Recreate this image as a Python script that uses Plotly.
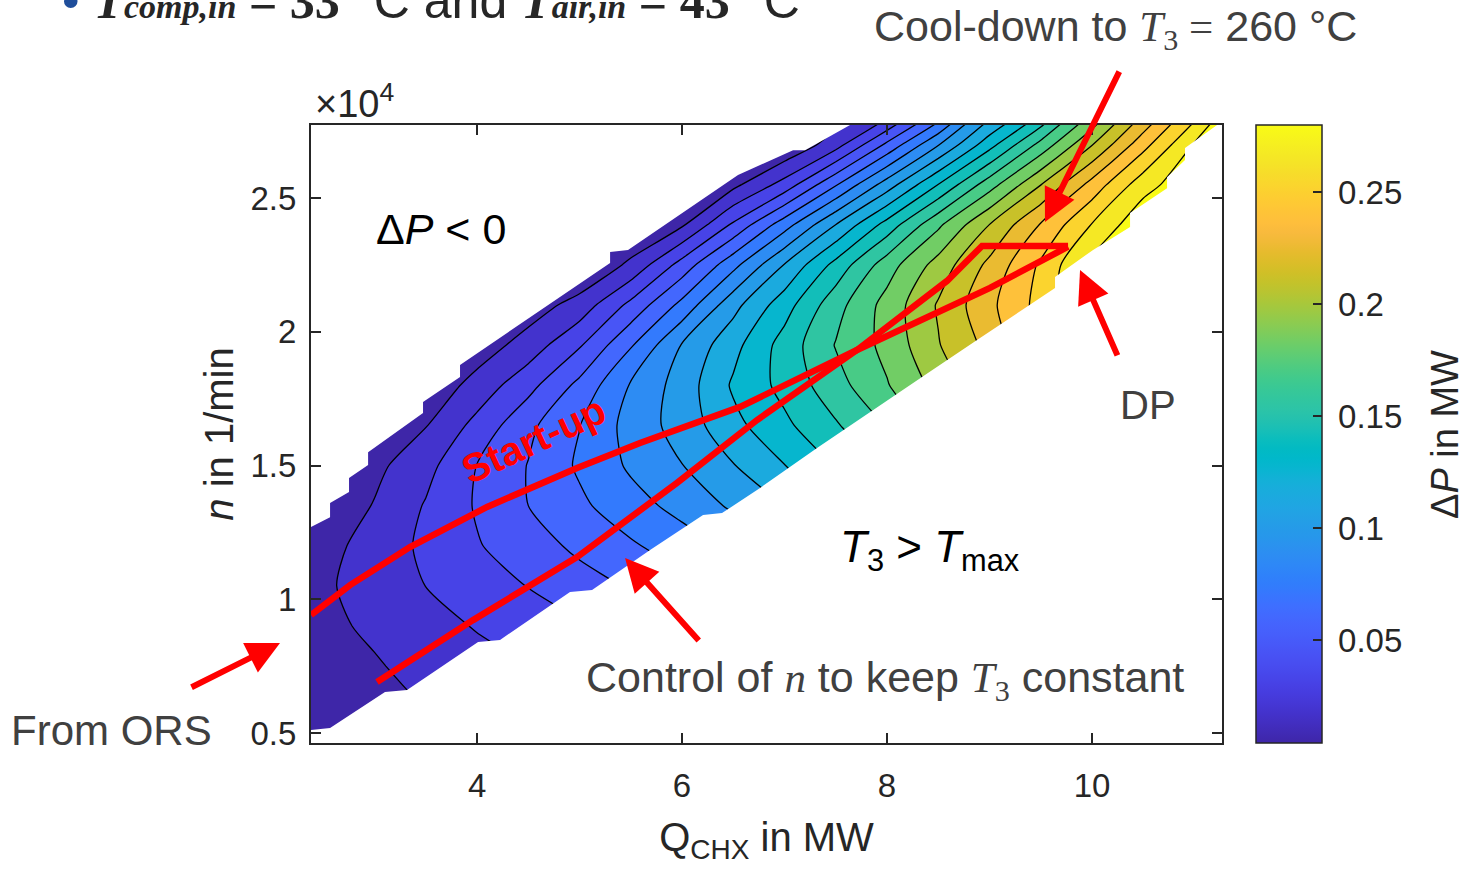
import plotly.graph_objects as go

SANS = "Liberation Sans, Arial, Helvetica, sans-serif"
SERIF = "Liberation Serif, Times New Roman, serif"
INK = "#262626"
NOTE = "#404040"
RED = "#ff0000"

# ---------------------------------------------------------------- data ---
# Heat duty of the compressor heat exchanger, MW
q_grid = [2.0, 2.5, 3.0, 3.5, 4.0, 4.5, 5.0, 5.5, 6.0, 6.5,
          7.0, 7.5, 8.0, 8.5, 9.0, 9.5, 10.0, 10.5, 11.0, 11.5]
# Shaft speed, 10^4 1/min
n_grid = [0.30, 0.45, 0.60, 0.75, 0.90, 1.05, 1.20, 1.35, 1.50,
          1.65, 1.80, 1.95, 2.10, 2.25, 2.40, 2.55, 2.70, 2.85]

# Net power gain dP in MW, one row per shaft speed (rows follow n_grid)
dp_mw = [
    [0.0, 0.0, 0.0, 0.0052, 0.0091, 0.0128, 0.0143, 0.0156, 0.0195, 0.0262, 0.0392, 0.0468, 0.0624, 0.0689, 0.0912, 0.1302, 0.1846, 0.2082, 0.2275, 0.2472],
    [0.0013, 0.0026, 0.0039, 0.0091, 0.0129, 0.0169, 0.0195, 0.0208, 0.0262, 0.0351, 0.0481, 0.0572, 0.0728, 0.0806, 0.1027, 0.1432, 0.1924, 0.2145, 0.2342, 0.2535],
    [0.0026, 0.0052, 0.0078, 0.0134, 0.0174, 0.0211, 0.0251, 0.0262, 0.0338, 0.0442, 0.0572, 0.0676, 0.0832, 0.0923, 0.1144, 0.1562, 0.2002, 0.2212, 0.2405, 0.2602],
    [0.0039, 0.0072, 0.0117, 0.0176, 0.0220, 0.0259, 0.0312, 0.0325, 0.0416, 0.0533, 0.0663, 0.0782, 0.0936, 0.1042, 0.1261, 0.1692, 0.2082, 0.2275, 0.2472, 0.2639],
    [0.0046, 0.0098, 0.0155, 0.0217, 0.0268, 0.0326, 0.0374, 0.0429, 0.0507, 0.0624, 0.0754, 0.0884, 0.1042, 0.1157, 0.1378, 0.1807, 0.2158, 0.2342, 0.2535, 0.2678],
    [0.0039, 0.0107, 0.0195, 0.0261, 0.0324, 0.0394, 0.0464, 0.0533, 0.0607, 0.0715, 0.0845, 0.0988, 0.1144, 0.1274, 0.1495, 0.1911, 0.2236, 0.2405, 0.2602, 0.2717],
    [0.0026, 0.0094, 0.0172, 0.0290, 0.0381, 0.0458, 0.0551, 0.0632, 0.0720, 0.0809, 0.0941, 0.1092, 0.1248, 0.1391, 0.1612, 0.2015, 0.2314, 0.2472, 0.2639, 0.2743],
    [0.0, 0.0026, 0.0138, 0.0270, 0.0403, 0.0520, 0.0624, 0.0731, 0.0822, 0.0932, 0.1045, 0.1196, 0.1352, 0.1508, 0.1729, 0.2119, 0.2392, 0.2535, 0.2678, 0.2756],
    [0.0, 0.0, 0.0096, 0.0218, 0.0393, 0.0525, 0.0670, 0.0800, 0.0907, 0.1034, 0.1167, 0.1309, 0.1456, 0.1625, 0.1846, 0.2212, 0.2472, 0.2602, 0.2717, 0.2769],
    [0.0, 0.0, 0.0023, 0.0124, 0.0300, 0.0490, 0.0647, 0.0829, 0.0965, 0.1132, 0.1273, 0.1416, 0.1569, 0.1756, 0.1952, 0.2275, 0.2535, 0.2639, 0.2743, 0.2782],
    [0.0, 0.0, 0.0, 0.0029, 0.0179, 0.0346, 0.0555, 0.0792, 0.0967, 0.1188, 0.1340, 0.1511, 0.1681, 0.1863, 0.2054, 0.2342, 0.2587, 0.2678, 0.2756, 0.2795],
    [0.0, 0.0, 0.0, 0.0, 0.0057, 0.0186, 0.0376, 0.0637, 0.0919, 0.1128, 0.1353, 0.1567, 0.1728, 0.1942, 0.2119, 0.2379, 0.2626, 0.2704, 0.2769, 0.2795],
    [0.0, 0.0, 0.0, 0.0, 0.0, 0.0060, 0.0181, 0.0425, 0.0688, 0.0997, 0.1244, 0.1511, 0.1738, 0.1963, 0.2179, 0.2386, 0.2652, 0.2730, 0.2769, 0.2795],
    [0.0, 0.0, 0.0, 0.0, 0.0, 0.0, 0.0, 0.0157, 0.0442, 0.0740, 0.1047, 0.1343, 0.1629, 0.1872, 0.2113, 0.2361, 0.2639, 0.2730, 0.2769, 0.2795],
    [0.0, 0.0, 0.0, 0.0, 0.0, 0.0, 0.0, 0.0, 0.0112, 0.0412, 0.0723, 0.1042, 0.1351, 0.1665, 0.1952, 0.2220, 0.2477, 0.2704, 0.2756, 0.2795],
    [0.0, 0.0, 0.0, 0.0, 0.0, 0.0, 0.0, 0.0, 0.0, 0.0095, 0.0311, 0.0638, 0.0974, 0.1303, 0.1634, 0.1947, 0.2258, 0.2547, 0.2704, 0.2795],
    [0.0, 0.0, 0.0, 0.0, 0.0, 0.0, 0.0, 0.0, 0.0, 0.0, 0.0, 0.0204, 0.0546, 0.0901, 0.1249, 0.1602, 0.1944, 0.2292, 0.2613, 0.2795],
    [0.0, 0.0, 0.0, 0.0, 0.0, 0.0, 0.0, 0.0, 0.0, 0.0, 0.0, 0.0, 0.0104, 0.0455, 0.0912, 0.1209, 0.1625, 0.2015, 0.2366, 0.2730],
]

# contour levels of dP (MW) and colour-bar range
dp_level_start = 0.013
dp_level_end = 0.26
dp_level_step = 0.013
cbar_range = [0.004, 0.28]
cbar_ticks = [0.05, 0.10, 0.15, 0.20, 0.25]
cbar_ticklabels = ["0.05", "0.1", "0.15", "0.2", "0.25"]

x_range = [2.38, 11.268]
y_range = [0.4626, 2.773]
x_ticks = [4, 6, 8, 10]
y_ticks = [0.5, 1.0, 1.5, 2.0, 2.5]
y_ticklabels = ["0.5", "1", "1.5", "2", "2.5"]

# limits of the feasible map: dP = 0 (upper side) and T3 = Tmax (lower side)
upper_edge_q = [2.380, 2.566, 2.566, 2.751, 2.751, 2.937, 2.937, 3.102, 3.473, 3.473,
                3.834, 3.834, 5.298, 5.298, 5.473, 6.546, 7.083, 7.200, 7.639]
upper_edge_n = [1.270, 1.307, 1.360, 1.401, 1.453, 1.502, 1.550, 1.595, 1.696, 1.737,
                1.831, 1.876, 2.257, 2.298, 2.306, 2.586, 2.679, 2.679, 2.773]
lower_edge_q = [2.380, 2.566, 3.102, 3.317, 4.010, 4.224, 4.907, 5.122, 5.688, 6.205,
                6.390, 6.761, 7.317, 7.834, 8.341, 8.878, 9.639, 9.639, 10.010, 10.371,
                10.371, 10.732, 10.732, 10.907, 10.907, 11.220]
lower_edge_n = [0.511, 0.519, 0.653, 0.661, 0.840, 0.848, 1.027, 1.035, 1.184, 1.315,
                1.322, 1.416, 1.565, 1.700, 1.831, 1.969, 2.164, 2.205, 2.306, 2.392,
                2.444, 2.537, 2.578, 2.642, 2.687, 2.773]

# operating paths
startup_q = [2.380, 2.761, 3.346, 4.098, 4.976, 5.590, 6.566, 7.707, 9.005, 9.766]
startup_n = [0.941, 1.053, 1.195, 1.345, 1.491, 1.584, 1.719, 1.932, 2.164, 2.318]
control_q = [3.024, 3.961, 4.976, 5.951, 6.732, 7.707, 8.585, 8.927, 9.766]
control_n = [0.691, 0.922, 1.158, 1.435, 1.670, 1.932, 2.190, 2.321, 2.321]

# MATLAB parula colour map
PARULA = [
    [0.2422, 0.1504, 0.6603], [0.2504, 0.1650, 0.7076], [0.2578, 0.1818, 0.7511], [0.2647, 0.1978, 0.7952],
    [0.2706, 0.2147, 0.8364], [0.2751, 0.2342, 0.8710], [0.2783, 0.2559, 0.8991], [0.2803, 0.2782, 0.9221],
    [0.2813, 0.3006, 0.9414], [0.2810, 0.3228, 0.9579], [0.2795, 0.3447, 0.9717], [0.2760, 0.3667, 0.9829],
    [0.2699, 0.3892, 0.9906], [0.2602, 0.4123, 0.9952], [0.2440, 0.4358, 0.9988], [0.2206, 0.4603, 0.9973],
    [0.1963, 0.4847, 0.9892], [0.1834, 0.5074, 0.9798], [0.1786, 0.5289, 0.9682], [0.1764, 0.5499, 0.9520],
    [0.1687, 0.5703, 0.9359], [0.1540, 0.5902, 0.9218], [0.1460, 0.6091, 0.9079], [0.1380, 0.6276, 0.8973],
    [0.1248, 0.6459, 0.8883], [0.1113, 0.6635, 0.8763], [0.0952, 0.6798, 0.8598], [0.0689, 0.6948, 0.8394],
    [0.0297, 0.7082, 0.8163], [0.0036, 0.7203, 0.7917], [0.0067, 0.7312, 0.7660], [0.0433, 0.7411, 0.7394],
    [0.0964, 0.7500, 0.7120], [0.1408, 0.7584, 0.6842], [0.1717, 0.7670, 0.6554], [0.1938, 0.7758, 0.6251],
    [0.2161, 0.7843, 0.5923], [0.2470, 0.7918, 0.5567], [0.2906, 0.7973, 0.5188], [0.3406, 0.8008, 0.4789],
    [0.3909, 0.8029, 0.4354], [0.4456, 0.8024, 0.3909], [0.5044, 0.7993, 0.3480], [0.5616, 0.7942, 0.3045],
    [0.6174, 0.7876, 0.2612], [0.6720, 0.7793, 0.2227], [0.7242, 0.7698, 0.1910], [0.7738, 0.7598, 0.1646],
    [0.8203, 0.7498, 0.1535], [0.8634, 0.7406, 0.1596], [0.9035, 0.7330, 0.1774], [0.9393, 0.7288, 0.2100],
    [0.9728, 0.7298, 0.2394], [0.9956, 0.7434, 0.2371], [0.9970, 0.7659, 0.2199], [0.9952, 0.7893, 0.2028],
    [0.9892, 0.8136, 0.1885], [0.9786, 0.8386, 0.1766], [0.9676, 0.8639, 0.1643], [0.9610, 0.8890, 0.1537],
    [0.9597, 0.9135, 0.1423], [0.9628, 0.9373, 0.1265], [0.9691, 0.9606, 0.1064], [0.9769, 0.9839, 0.0805],
]
parula_scale = [
    [i / (len(PARULA) - 1), "rgb(%d,%d,%d)" % tuple(round(255 * c) for c in rgb)]
    for i, rgb in enumerate(PARULA)
]

# ---------------------------------------------------------------- figure --
fig = go.Figure()

fig.add_trace(go.Contour(
    x=q_grid, y=n_grid, z=dp_mw,
    autocontour=False,
    contours=dict(start=dp_level_start, end=dp_level_end, size=dp_level_step,
                  coloring="fill", showlines=True),
    line=dict(color="black", width=1.3, smoothing=0.7),
    colorscale=parula_scale, showscale=False, hoverinfo="skip",
))

# blank out the infeasible regions on both sides of the map
pad = 0.6
upper_mask_q = upper_edge_q + [upper_edge_q[-1], x_range[0] - pad, x_range[0] - pad]
upper_mask_n = upper_edge_n + [y_range[1] + pad, y_range[1] + pad, upper_edge_n[0]]
lower_mask_q = lower_edge_q + [lower_edge_q[-1], x_range[1] + pad, x_range[1] + pad,
                               x_range[0] - pad, x_range[0] - pad]
lower_mask_n = lower_edge_n + [y_range[1] + pad, y_range[1] + pad, y_range[0] - pad,
                               y_range[0] - pad, lower_edge_n[0]]
for mq, mn in ((upper_mask_q, upper_mask_n), (lower_mask_q, lower_mask_n)):
    fig.add_trace(go.Scatter(x=mq, y=mn, mode="lines", fill="toself",
                             fillcolor="white", line=dict(width=0, color="white"),
                             hoverinfo="skip", showlegend=False))

# start-up path and speed-controlled path
for pq, pn in ((startup_q, startup_n), (control_q, control_n)):
    fig.add_trace(go.Scatter(x=pq, y=pn, mode="lines",
                             line=dict(color=RED, width=6.5),
                             hoverinfo="skip", showlegend=False))

# continuous colour bar for dP (title is placed as a rotated note below)
fig.add_trace(go.Scatter(
    x=[q_grid[0]], y=[n_grid[0]], mode="markers",
    marker=dict(size=1, color=[cbar_range[0]], colorscale=parula_scale,
                cmin=cbar_range[0], cmax=cbar_range[1], showscale=True,
                colorbar=dict(
                    x=1.0373, xanchor="left", xpad=0, y=0.5, yanchor="middle", ypad=0,
                    len=1.0, lenmode="fraction", thickness=66, thicknessmode="pixels",
                    outlinewidth=1.5, outlinecolor=INK,
                    tickmode="array", tickvals=cbar_ticks,
                    ticktext=["\u2005" + t for t in cbar_ticklabels],
                    ticks="inside", ticklen=9, tickwidth=1.5, tickcolor=INK,
                    tickfont=dict(family=SANS, size=33, color=INK),
                )),
    hoverinfo="skip", showlegend=False,
))

axis_common = dict(
    showline=True, linewidth=2, linecolor=INK, mirror="ticks",
    ticks="inside", ticklen=10, tickwidth=1.5, tickcolor=INK,
    showgrid=False, zeroline=False,
    tickfont=dict(family=SANS, size=33, color=INK),
)
fig.update_xaxes(range=x_range, tickmode="array", tickvals=x_ticks,
                 ticklabelstandoff=12,
                 title=dict(text="Q<sub>CHX</sub> in MW", standoff=20,
                            font=dict(family=SANS, size=40, color=INK)),
                 **axis_common)
fig.update_yaxes(range=y_range, tickmode="array", tickvals=y_ticks, ticktext=y_ticklabels,
                 ticklabelstandoff=6,
                 title=dict(text="<i>n</i> in 1/min", standoff=5,
                            font=dict(family=SANS, size=40, color=INK)),
                 **axis_common)


def serif(txt):
    return '<span style="font-family:%s">%s</span>' % (SERIF, txt)


def small(txt):
    return '<span style="font-size:34px">%s</span>' % txt


notes = [
    dict(text="×10<sup>4</sup>", x=0.002, y=1.039, xref="paper", yref="paper",
         xanchor="left", font=dict(family=SANS, size=38, color=INK)),
    dict(text="Δ<i>P</i> in MW", x=1.2448, y=0.4984, xref="paper", yref="paper",
         textangle=-90, font=dict(family=SANS, size=38, color=INK)),
    dict(text="Δ<i>P</i> &lt; 0", x=3.649, y=2.384, xref="x", yref="y",
         font=dict(family=SANS, size=43, color="black")),
    dict(text="<i>T</i><sub>3</sub> &gt; <i>T</i><sub>max</sub>", x=8.42, y=1.184,
         xref="x", yref="y", font=dict(family=SANS, size=44, color="black")),
    dict(text="DP", x=10.546, y=1.726, xref="x", yref="y",
         font=dict(family=SANS, size=40, color=NOTE)),
    dict(text="Control of " + serif("<i>n</i>") + " to keep " + serif("<i>T</i><sub>3</sub>")
         + " constant", x=7.98, y=0.698, xref="x", yref="y",
         font=dict(family=SANS, size=43, color=NOTE)),
    dict(text="Cool-down to " + serif("<i>T</i><sub>3</sub> =") + " 260 °C",
         x=0.8826, y=1.155, xref="paper", yref="paper",
         font=dict(family=SANS, size=43, color=NOTE)),
    dict(text="From ORS", x=-0.2195, y=0.021, xref="paper", yref="paper",
         font=dict(family=SANS, size=42, color=NOTE)),
    dict(text="<b>Start-up</b>", x=4.546, y=1.595, xref="x", yref="y", textangle=-25,
         font=dict(family=SANS, size=40, color=RED)),
]
for a in notes:
    a.setdefault("xanchor", "center")
    a.setdefault("yanchor", "middle")
    fig.add_annotation(showarrow=False, **a)

# bullet line of the slide above the chart (runs off the top edge)
fig.add_annotation(
    text='<span style="color:#1f4e9b">•</span> '
    + serif("<b><i>T</i></b>" + small("<b><i>comp,in</i></b>") + " <b>= 33</b>")
    + " °C and "
    + serif("<b><i>T</i></b>" + small("<b><i>air,in</i></b>") + " <b>= 43</b>")
    + " °C",
    x=-0.2755, y=1.152, xref="paper", yref="paper", xanchor="left", yanchor="bottom",
    showarrow=False, font=dict(family=SANS, size=50, color=INK))

# red pointer arrows: (tip x, tip y, tail x, tail y) in data units
pointers = [
    (5.444, 1.154, 6.176, 0.840),
    (9.883, 2.231, 10.254, 1.906),
    (9.541, 2.410, 10.273, 2.978),
]
for tx, ty, sx, sy in pointers:
    fig.add_annotation(x=tx, y=ty, xref="x", yref="y", ax=sx, ay=sy, axref="x", ayref="y",
                       text="", showarrow=True, arrowhead=2, arrowsize=1.1,
                       arrowwidth=6, arrowcolor=RED, standoff=0)
# arrow from the left margin towards the map entry point
fig.add_annotation(x=-0.034, y=0.1618, xref="paper", yref="paper", ax=-90, ay=45,
                   text="", showarrow=True, arrowhead=2, arrowsize=1.1,
                   arrowwidth=6, arrowcolor=RED, standoff=0)

fig.update_layout(
    width=1471, height=872,
    margin=dict(l=311, r=249, t=125, b=129),
    paper_bgcolor="white", plot_bgcolor="white",
    showlegend=False,
)

fig.write_html("out.html", config={"displayModeBar": False})
